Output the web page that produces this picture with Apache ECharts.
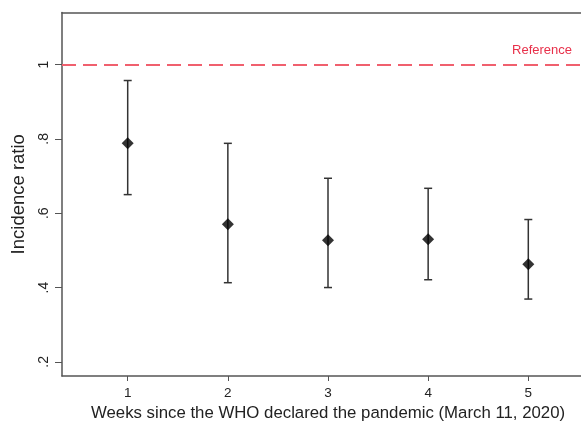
<!DOCTYPE html>
<html>
<head>
<meta charset="utf-8">
<script src="https://cdn.jsdelivr.net/npm/echarts@6/dist/echarts.min.js"></script>
<style>html,body{margin:0;padding:0;background:#fff;overflow:hidden}#c{width:581px;height:427px}</style>
</head>
<body>
<div id="c"></div>
<script>
var weeks = [1, 2, 3, 4, 5];
var estimate = [0.788, 0.570, 0.527, 0.530, 0.463];
var lower = [0.650, 0.413, 0.400, 0.421, 0.369];
var upper = [0.957, 0.788, 0.694, 0.667, 0.583];
var yTicks = [0.2, 0.4, 0.6, 0.8, 1];
var xTicks = [1, 2, 3, 4, 5];
var referenceValue = 1;

var font = 'Liberation Sans, Arial, Helvetica, sans-serif';
var chart = echarts.init(document.getElementById('c'), null, {renderer: 'canvas'});

var points = weeks.map(function (w, i) { return [w, estimate[i]]; });
var bars = weeks.map(function (w, i) { return [w, lower[i], upper[i]]; });

chart.setOption({
  animation: false,
  backgroundColor: '#fff',
  grid: {left: 62, top: 12.5, width: 532, bottom: 51, outerBoundsMode: 'none', containLabel: false, show: false},
  xAxis: [{
    type: 'value', min: 0.344, max: 5.656,
    name: 'Weeks since the WHO declared the pandemic (March 11, 2020)',
    nameLocation: 'middle', nameGap: 29,
    nameTextStyle: {fontFamily: font, fontSize: 16.8, color: '#222'},
    splitLine: {show: false},
    axisLine: {show: true, lineStyle: {color: '#555', width: 1.5}},
    axisTick: {show: true, length: 5, customValues: xTicks, lineStyle: {color: '#555', width: 1}},
    axisLabel: {customValues: xTicks, margin: 10, fontFamily: font, fontSize: 13.5, color: '#222'}
  }, {
    type: 'value', position: 'top', min: 0.344, max: 5.656,
    splitLine: {show: false},
    axisLine: {show: true, lineStyle: {color: '#555', width: 1.5}},
    axisTick: {show: false},
    axisLabel: {show: false}
  }],
  yAxis: {
    type: 'value', min: 0.162, max: 1.14,
    name: 'Incidence ratio',
    nameLocation: 'middle', nameGap: 34,
    nameTextStyle: {fontFamily: font, fontSize: 18.5, color: '#222'},
    splitLine: {show: false},
    axisLine: {show: true, lineStyle: {color: '#555', width: 1.5}},
    axisTick: {show: true, length: 7, customValues: yTicks, lineStyle: {color: '#555', width: 1}},
    axisLabel: {
      customValues: yTicks, rotate: 90, margin: 11, fontFamily: font, fontSize: 14, color: '#222',
      formatter: function (v) { return String(+v.toFixed(2)).replace(/^0\./, '.'); }
    }
  },
  series: [
    {
      type: 'custom',
      data: bars,
      z: 2,
      renderItem: function (params, api) {
        var x = api.value(0);
        var lo = api.coord([x, api.value(1)]);
        var hi = api.coord([x, api.value(2)]);
        var hw = 4;
        var st = {stroke: '#333', lineWidth: 1.5};
        return {
          type: 'group',
          children: [
            {type: 'line', shape: {x1: lo[0], y1: lo[1], x2: hi[0], y2: hi[1]}, style: st},
            {type: 'line', shape: {x1: lo[0] - hw, y1: lo[1], x2: lo[0] + hw, y2: lo[1]}, style: st},
            {type: 'line', shape: {x1: hi[0] - hw, y1: hi[1], x2: hi[0] + hw, y2: hi[1]}, style: st}
          ]
        };
      }
    },
    {
      type: 'scatter',
      data: points,
      symbol: 'diamond',
      symbolSize: [12, 12],
      itemStyle: {color: '#000'},
      z: 3,
      markLine: {
        silent: true,
        symbol: ['none', 'none'],
        lineStyle: {color: '#f0606e', type: [14, 7], width: 1.8},
        label: {
          show: true, position: 'insideEndTop', formatter: 'Reference',
          color: '#e8304a', fontFamily: font, fontSize: 13, distance: [22, 8]
        },
        data: [{yAxis: referenceValue}]
      }
    }
  ]
});
</script>
</body>
</html>
